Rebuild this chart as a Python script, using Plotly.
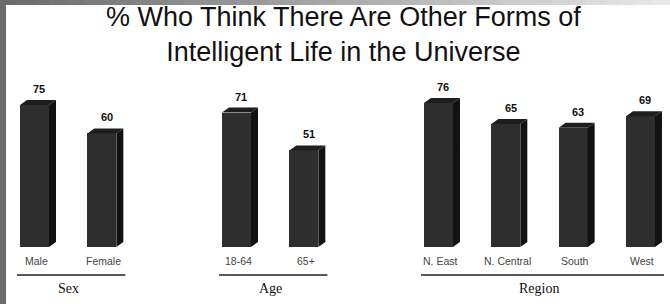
import plotly.graph_objects as go

# ---- data ----
categories = ["Male", "Female", "18-64", "65+", "N. East", "N. Central", "South", "West"]
values = [75, 60, 71, 51, 76, 65, 63, 69]
groups = ["Sex", "Sex", "Age", "Age", "Region", "Region", "Region", "Region"]
group_names = ["Sex", "Age", "Region"]
title_lines = ["% Who Think There Are Other Forms of", "Intelligent Life in the Universe"]

# ---- layout constants (pixel mapping) ----
W, H = 670, 304
unit_px = 67.33           # px per x unit
x0_px = 34.5              # pixel of x=0
base_px = 247.0           # pixel of y=0
ypx = 1.8933              # px per y unit

# x positions: bars within group at step 1, gap of one slot between groups
x_pos = []
pos = 0
prev = None
for g in groups:
    if prev is not None and g != prev:
        pos += 1
    x_pos.append(pos)
    pos += 1
    prev = g

xr = [(0 - x0_px) / unit_px, (W - x0_px) / unit_px]
yr = [-(H - base_px) / ypx, base_px / ypx]

bw = 29 / unit_px         # front face width
dx = 7 / unit_px          # depth x
dy = 5 / ypx              # depth y

front_col = "#2e2e2e"
top_col = "#1e1e1e"
side_col = "#121212"

fig = go.Figure()
fig.add_trace(go.Bar(x=x_pos, y=values, width=bw, marker=dict(color=front_col, line=dict(width=0)),
                     hoverinfo="skip", showlegend=False))

# 3D side and top faces
sx, sy, tx, ty = [], [], [], []
for xp, v in zip(x_pos, values):
    l, r = xp - bw / 2, xp + bw / 2
    sx += [r, r + dx, r + dx, r, r, None]
    sy += [0, dy, v + dy, v, 0, None]
    tx += [l, l + dx, r + dx, r, l, None]
    ty += [v, v + dy, v + dy, v, v, None]
fig.add_trace(go.Scatter(x=sx, y=sy, fill="toself", fillcolor=side_col, mode="lines",
                         line=dict(width=0, color=side_col), hoverinfo="skip", showlegend=False))
fig.add_trace(go.Scatter(x=tx, y=ty, fill="toself", fillcolor=top_col, mode="lines",
                         line=dict(width=0, color=top_col), hoverinfo="skip", showlegend=False))

annotations = []
# value labels
for xp, v in zip(x_pos, values):
    annotations.append(dict(x=xp + 0.07, y=v + dy, xref="x", yref="y", text=f"<b>{v}</b>",
                            showarrow=False, yanchor="middle", yshift=11,
                            font=dict(family="Liberation Sans, Arial", size=11, color="#111")))
# category labels
for xp, c in zip(x_pos, categories):
    annotations.append(dict(x=xp + 0.03, y=-(261 - base_px) / ypx, xref="x", yref="y", text=c,
                            showarrow=False, yanchor="middle",
                            font=dict(family="Liberation Sans, Arial", size=10.5, color="#444")))

shapes = []
# group lines and labels
for gname in group_names:
    xs = [xp for xp, g in zip(x_pos, groups) if g == gname]
    ly = -(275 - base_px) / ypx
    shapes.append(dict(type="line", xref="x", yref="y", x0=xs[0] - 0.26, x1=xs[-1] + 0.35,
                       y0=ly, y1=ly, line=dict(color="#222", width=1.6)))
    annotations.append(dict(x=(xs[0] + xs[-1]) / 2, y=-(288 - base_px) / ypx, xref="x", yref="y",
                            text=gname, showarrow=False, yanchor="middle",
                            font=dict(family="Liberation Serif, Times New Roman", size=14, color="#111")))

# title (single wrapped text)
annotations.append(dict(x=343 / W, y=1 - 34.5 / H, xref="paper", yref="paper",
                        text="<br>".join(title_lines),
                        showarrow=False, yanchor="middle", xanchor="center", align="center",
                        font=dict(family="Liberation Sans, Arial", size=27, color="#111")))

# frame: left strip and top gradient strip
shapes.append(dict(type="rect", xref="paper", yref="paper", x0=0, x1=6 / W, y0=0, y1=1,
                   fillcolor="#6b6b6b", line=dict(width=0), layer="above"))
nseg = 40
for i in range(nseg):
    c = int(107 + (232 - 107) * i / (nseg - 1))
    shapes.append(dict(type="rect", xref="paper", yref="paper", x0=i / nseg, x1=(i + 1) / nseg + 0.001,
                       y0=1 - 5 / H, y1=1, fillcolor=f"rgb({c},{c},{c})", line=dict(width=0), layer="above"))

fig.update_layout(
    width=W, height=H, margin=dict(l=0, r=0, t=0, b=0),
    paper_bgcolor="white", plot_bgcolor="white",
    xaxis=dict(range=xr, visible=False, fixedrange=True),
    yaxis=dict(range=yr, visible=False, fixedrange=True),
    annotations=annotations, shapes=shapes, bargap=0, showlegend=False,
)

fig.write_html("out.html", config={"displayModeBar": False},
               post_script="document.body.style.margin='0';document.body.style.overflow='hidden';")
